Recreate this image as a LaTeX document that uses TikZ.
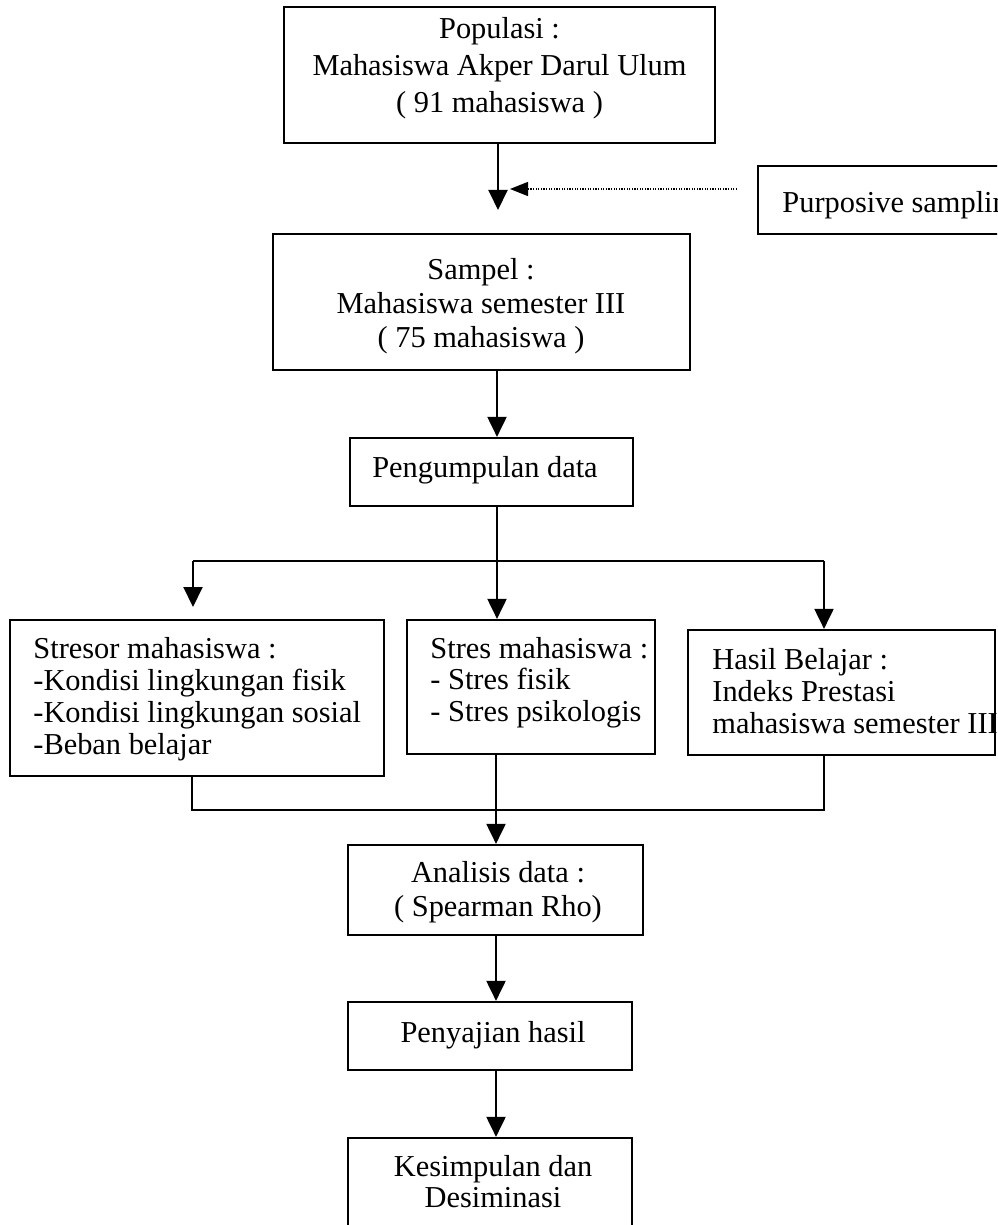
\documentclass[tikz,border=0pt]{standalone}
\usepackage{fontspec}
\setmainfont{Liberation Serif}
\usetikzlibrary{arrows.meta}
\begin{document}
\begin{tikzpicture}[x=0.5pt,y=-0.5pt,
  box/.style={draw, line width=1.1pt, inner sep=0pt, rectangle},
  txt/.style={inner sep=0pt, font=\fontsize{15.2}{16}\selectfont},
  conn/.style={line width=1pt},
  arr/.style={line width=1pt, -{Triangle[width=9.5pt,length=10pt]}},
  dotarr/.style={line width=0.6pt, dash pattern=on 0.6pt off 0.7pt, -{Triangle[width=7pt,length=9pt]}}]
\useasboundingbox (0,0) rectangle (997,1225);
\clip (0,0) rectangle (997,1225);
% boxes
\node[box, minimum width=215.5pt, minimum height=68pt] (pop) at (499.5,75) {};
\node[box, minimum width=208.5pt, minimum height=68pt] (samp) at (481.5,302) {};
\node[box, minimum width=151pt, minimum height=34pt] (purp) at (909,200) {};
\node[box, minimum width=141.5pt, minimum height=34pt] (peng) at (491.5,472) {};
\node[box, minimum width=187pt, minimum height=78pt] (stresor) at (197,698) {};
\node[box, minimum width=124pt, minimum height=67pt] (stres) at (531,687) {};
\node[box, minimum width=153.5pt, minimum height=62.5pt] (hasil) at (841.5,692.5) {};
\node[box, minimum width=147.5pt, minimum height=45pt] (anal) at (495.5,890) {};
\node[box, minimum width=142pt, minimum height=34pt] (peny) at (490,1036) {};
\node[box, minimum width=142pt, minimum height=61pt] (kes) at (490,1199) {};
% texts
\node[txt, align=center, font=\fontsize{15.2}{18.5}\selectfont] (poptxt) at (499.5,68.3)
  {Populasi :\\ Mahasiswa Akper Darul Ulum\\ ( 91 mahasiswa )};
\node[txt, align=center, font=\fontsize{15.2}{17}\selectfont] (samptxt) at (481,306)
  {Sampel :\\ Mahasiswa semester III\\ ( 75 mahasiswa )};
\node[txt, anchor=base west] (purptxt) at (782,213) {Purposive sampling};
\node[txt, anchor=base] (pengtxt) at (485,477) {Pengumpulan data};
\node[txt, anchor=north west, align=left] (stresortxt) at (33,636.5)
  {Stresor mahasiswa :\\ -Kondisi lingkungan fisik\\ -Kondisi lingkungan sosial\\ -Beban belajar};
\node[txt, anchor=north west, align=left] (strestxt) at (430,636.5)
  {Stres mahasiswa :\\ - Stres fisik\\ - Stres psikologis};
\node[txt, anchor=north west, align=left] (hasiltxt) at (712,648)
  {Hasil Belajar :\\ Indeks Prestasi\\ mahasiswa semester III};
\node[txt, align=center, font=\fontsize{15.2}{17}\selectfont] (analtxt) at (498,892)
  {Analisis data :\\ ( Spearman Rho)};
\node[txt, anchor=base] (penytxt) at (493,1042) {Penyajian hasil};
\node[txt, align=center, font=\fontsize{15.2}{15.5}\selectfont] (kestxt) at (493,1182)
  {Kesimpulan dan\\ Desiminasi};
% coordinates
\coordinate (popend) at (498,210);
\coordinate (dotstart) at (737,189);
\coordinate (dotend) at (510,189);
\coordinate (spine) at (497,0);
\coordinate (split) at (497,561);
\coordinate (lsplit) at (193,561);
\coordinate (rsplit) at (824,561);
\coordinate (lend) at (193,607);
\coordinate (merge) at (496,810);
\coordinate (lmerge) at (192,810);
\coordinate (rmerge) at (824,810);
% connectors
\draw[arr] (pop.south -| popend) -- (popend);
\draw[dotarr] (dotstart) -- (dotend);
\draw[arr] (samp.south -| spine) -- (peng.north -| spine);
\draw[conn] (peng.south -| spine) -- (split);
\draw[conn] (lsplit) -- (rsplit);
\draw[arr] (lsplit) -- (lend);
\draw[arr] (split) -- (stres.north -| split);
\draw[arr] (rsplit) -- (hasil.north -| rsplit);
\draw[conn] (stresor.south -| lmerge) -- (lmerge) -- (rmerge) -- (hasil.south -| rmerge);
\draw[arr] (stres.south -| merge) -- (anal.north -| merge);
\draw[arr] (anal.south -| merge) -- (peny.north -| merge);
\draw[arr] (peny.south -| merge) -- (kes.north -| merge);
\end{tikzpicture}
\end{document}
